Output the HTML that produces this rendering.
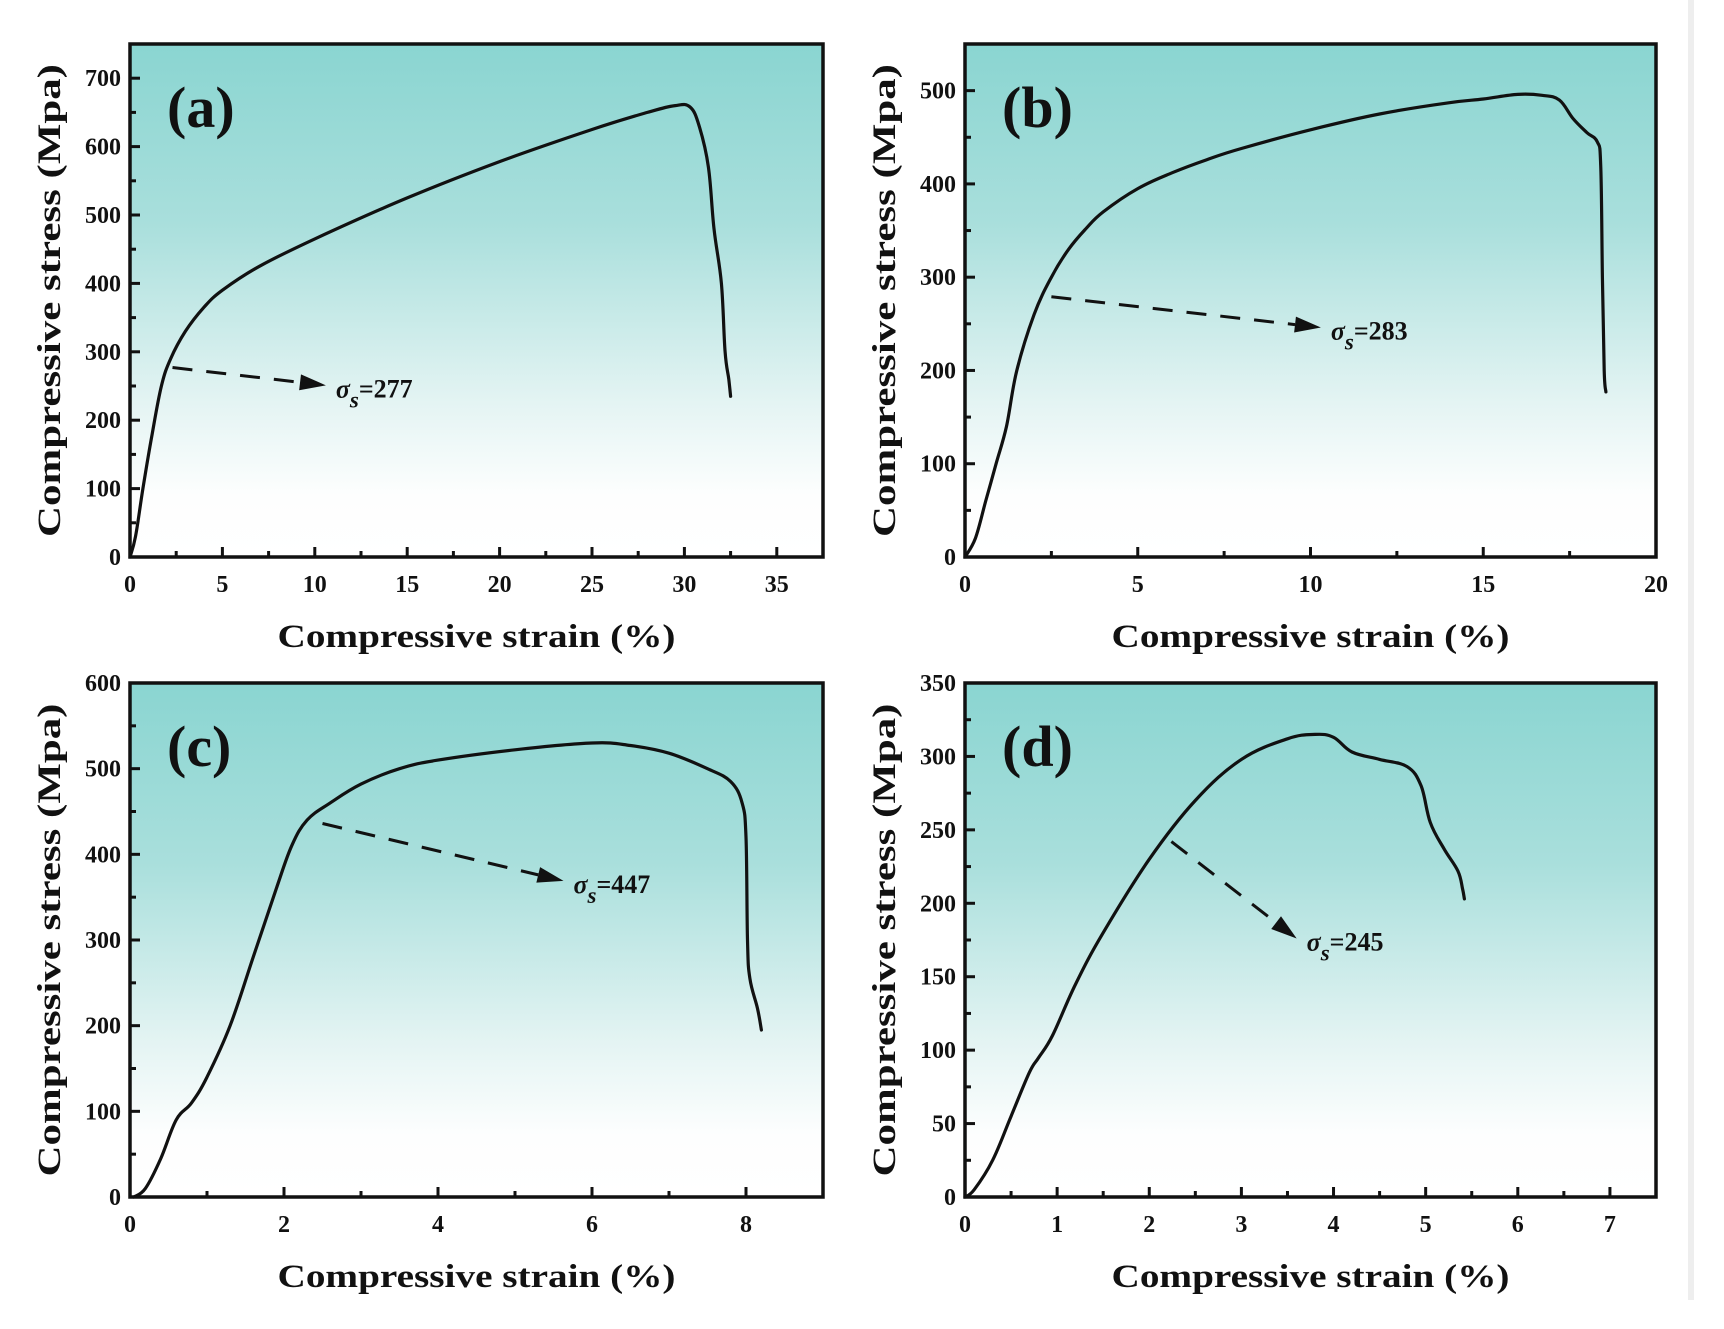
<!DOCTYPE html>
<html><head><meta charset="utf-8"><style>
html,body{margin:0;padding:0;background:#fff;}
svg{display:block;}
text{font-family:"Liberation Serif",serif;font-weight:bold;fill:#111;}
</style></head>
<body>
<svg id="fig" width="1724" height="1329" viewBox="0 0 1724 1329" xmlns="http://www.w3.org/2000/svg">
<defs>
<linearGradient id="bg" x1="0" y1="0" x2="0" y2="1">
<stop offset="0" stop-color="#8ad5d1"/>
<stop offset="0.35" stop-color="#a9dfdc"/>
<stop offset="0.7" stop-color="#e4f4f3"/>
<stop offset="0.88" stop-color="#fdfefe"/>
<stop offset="1" stop-color="#ffffff"/>
</linearGradient>
</defs>
<rect x="1688" y="0" width="6" height="1300" fill="#eeeeee"/>
</svg>
<script>
// ---- Panel (a) data ----
const aStrain = [0,0.3,0.7,1.2,1.7,2.2,3,4,5,7,10,15,20,25,28,29.5,30.3,30.8,31.3,31.6,32,32.2,32.4,32.5];
const aStress = [0,30,100,180,250,290,330,365,390,425,465,525,578,625,650,660,658,630,570,480,400,300,260,235];
const aYield = [2.3,277,10.6,251];
// ---- Panel (b) data ----
const bStrain = [0,0.3,0.6,0.9,1.2,1.5,2,2.5,3,3.5,4,5,6,7,8,10,12,14,15,16,16.7,17.2,17.6,18,18.3,18.4,18.45,18.5,18.55];
const bStress = [0,20,60,100,140,200,260,300,330,352,370,395,412,426,438,458,475,487,491,496,495,490,470,455,445,420,300,200,177];
const bYield = [2.5,279,10.3,246];
// ---- Panel (c) data ----
const cStrain = [0.05,0.2,0.4,0.6,0.8,1,1.3,1.6,1.9,2.1,2.3,2.6,3,3.5,4,5,6,6.5,7,7.5,7.8,7.95,8.0,8.02,8.05,8.15,8.2];
const cStress = [0,10,45,90,110,140,200,280,360,410,440,460,482,500,510,522,530,527,518,500,485,460,420,300,255,220,195];
const cYield = [2.5,436,5.63,369];
// ---- Panel (d) data ----
const dStrain = [0,0.1,0.3,0.5,0.7,0.8,0.95,1.2,1.5,2,2.5,3,3.5,3.8,4.0,4.2,4.5,4.8,4.95,5.05,5.2,5.35,5.4,5.42];
const dStress = [0,5,25,55,85,95,110,145,180,230,270,298,312,315,313,303,298,293,280,255,237,222,210,203];
const dYield = [2.24,242,3.6,176];
// ---- tick labels ----
const aXTicks = [0,5,10,15,20,25,30,35];
const aYTicks = [0,100,200,300,400,500,600,700];
const bXTicks = [0,5,10,15,20];
const bYTicks = [0,100,200,300,400,500];
const cXTicks = [0,2,4,6,8];
const cYTicks = [0,100,200,300,400,500,600];
const dXTicks = [0,1,2,3,4,5,6,7];
const dYTicks = [0,50,100,150,200,250,300,350];
const yieldLabels = ["277","283","447","245"];
const panelLabels = ["(a)","(b)","(c)","(d)"];

const NS = "http://www.w3.org/2000/svg";
const svg = document.getElementById('fig');
function mk(tag, attrs, parent){
  const e = document.createElementNS(NS, tag);
  for (const k in attrs) e.setAttribute(k, attrs[k]);
  (parent||svg).appendChild(e);
  return e;
}
function smooth(pts){
  let d = 'M'+pts[0][0].toFixed(1)+' '+pts[0][1].toFixed(1);
  const t = 0.18;
  for(let i=0;i<pts.length-1;i++){
    const p0=pts[Math.max(0,i-1)], p1=pts[i], p2=pts[i+1], p3=pts[Math.min(pts.length-1,i+2)];
    const c1x=p1[0]+(p2[0]-p0[0])*t, c1y=p1[1]+(p2[1]-p0[1])*t;
    const c2x=p2[0]-(p3[0]-p1[0])*t, c2y=p2[1]-(p3[1]-p1[1])*t;
    d += ` C${c1x.toFixed(1)} ${c1y.toFixed(1)} ${c2x.toFixed(1)} ${c2y.toFixed(1)} ${p2[0].toFixed(1)} ${p2[1].toFixed(1)}`;
  }
  return d;
}
const panels = [
  {id:'a', L:130, R:823, T:44, B:557, xmax:37.5, ymax:750, xs:aStrain, ys:aStress, xt:aXTicks, yt:aYTicks, xminor:2.5, yminor:50, yld:aYield, lab:0},
  {id:'b', L:965, R:1656, T:44, B:557, xmax:20, ymax:550, xs:bStrain, ys:bStress, xt:bXTicks, yt:bYTicks, xminor:2.5, yminor:50, yld:bYield, lab:1},
  {id:'c', L:130, R:823, T:683, B:1197, xmax:9, ymax:600, xs:cStrain, ys:cStress, xt:cXTicks, yt:cYTicks, xminor:1, yminor:50, yld:cYield, lab:2},
  {id:'d', L:965, R:1656, T:683, B:1197, xmax:7.5, ymax:350, xs:dStrain, ys:dStress, xt:dXTicks, yt:dYTicks, xminor:0.5, yminor:25, yld:dYield, lab:3}
];
panels.forEach(p=>{
  const g = mk('g',{});
  
  
  const X = v => p.L + v/p.xmax*(p.R-p.L);
  const Y = v => p.B - v/p.ymax*(p.B-p.T);
  const bg = mk('rect',{x:p.L,y:p.T,width:p.R-p.L,height:p.B-p.T,fill:'url(#bg)'},g);
  
  
  for(let v=0; v<=p.xmax+1e-9; v+=p.xminor){
    const len = p.xt.some(t=>Math.abs(t-v)<1e-9)?10:6;
    mk('line',{x1:X(v),x2:X(v),y1:p.B,y2:p.B-len,stroke:'#111','stroke-width':3},g);
  }
  for(let v=0; v<=p.ymax+1e-9; v+=p.yminor){
    const len = p.yt.some(t=>Math.abs(t-v)<1e-9)?10:6;
    mk('line',{x1:p.L,x2:p.L+len,y1:Y(v),y2:Y(v),stroke:'#111','stroke-width':3},g);
  }
  p.xt.forEach(t=>{
    const tx = mk('text',{x:X(t),y:p.B+35,'text-anchor':'middle','font-size':24},g);
    tx.textContent = t;
    
    
  });
  p.yt.forEach(t=>{
    const ty = mk('text',{x:p.L-9,y:Y(t)+8,'text-anchor':'end','font-size':24},g);
    ty.textContent = t;
    
    
  });
  const pts = p.xs.map((x,i)=>[X(x),Y(p.ys[i])]);
  const c = mk('path',{d:smooth(pts),fill:'none',stroke:'#111','stroke-width':3.2,'stroke-linejoin':'round','stroke-linecap':'round'},g);
  
  
  const x1=X(p.yld[0]), y1=Y(p.yld[1]), x2=X(p.yld[2]), y2=Y(p.yld[3]);
  const ang=Math.atan2(y2-y1,x2-x1), hl=26, hw=8;
  const bx=x2-hl*Math.cos(ang), by=y2-hl*Math.sin(ang);
  const ar = mk('line',{x1:x1,y1:y1,x2:bx,y2:by,stroke:'#111','stroke-width':3,'stroke-dasharray':'20 14'},g);
  
  
  const px=-Math.sin(ang), py=Math.cos(ang);
  mk('polygon',{points:`${x2},${y2} ${bx+px*hw},${by+py*hw} ${bx-px*hw},${by-py*hw}`,fill:'#111'},g);
  const lt = mk('text',{x:x2+10,y:y2+12,'font-size':26},g);
  
  
  const s1 = mk('tspan',{'font-style':'italic'},lt); s1.textContent='σ';
  const s2 = mk('tspan',{'font-style':'italic',dy:10,'font-size':23},lt); s2.textContent='s';
  const s3 = mk('tspan',{dy:-10},lt); s3.textContent='='+yieldLabels[p.lab];
  mk('rect',{x:p.L,y:p.T,width:p.R-p.L,height:p.B-p.T,fill:'none',stroke:'#111','stroke-width':3.5},g);
  const pl = mk('text',{x:p.L+37,y:p.T+83,'font-size':58},g);
  pl.textContent = panelLabels[p.lab];
  
  
  const xtl = mk('text',{x:(p.L+p.R)/2,y:p.B+90,'text-anchor':'middle','font-size':33,textLength:398,lengthAdjust:'spacingAndGlyphs'},g);
  xtl.textContent='Compressive strain (%)';
  
  
  const cy=(p.T+p.B)/2, tx0=p.L-70;
  const ytl = mk('text',{x:tx0,y:cy,'text-anchor':'middle','font-size':33,textLength:473,lengthAdjust:'spacingAndGlyphs',transform:`rotate(-90 ${tx0} ${cy})`},g);
  ytl.textContent='Compressive stress (Mpa)';
  
  
});
</script>
</body></html>
